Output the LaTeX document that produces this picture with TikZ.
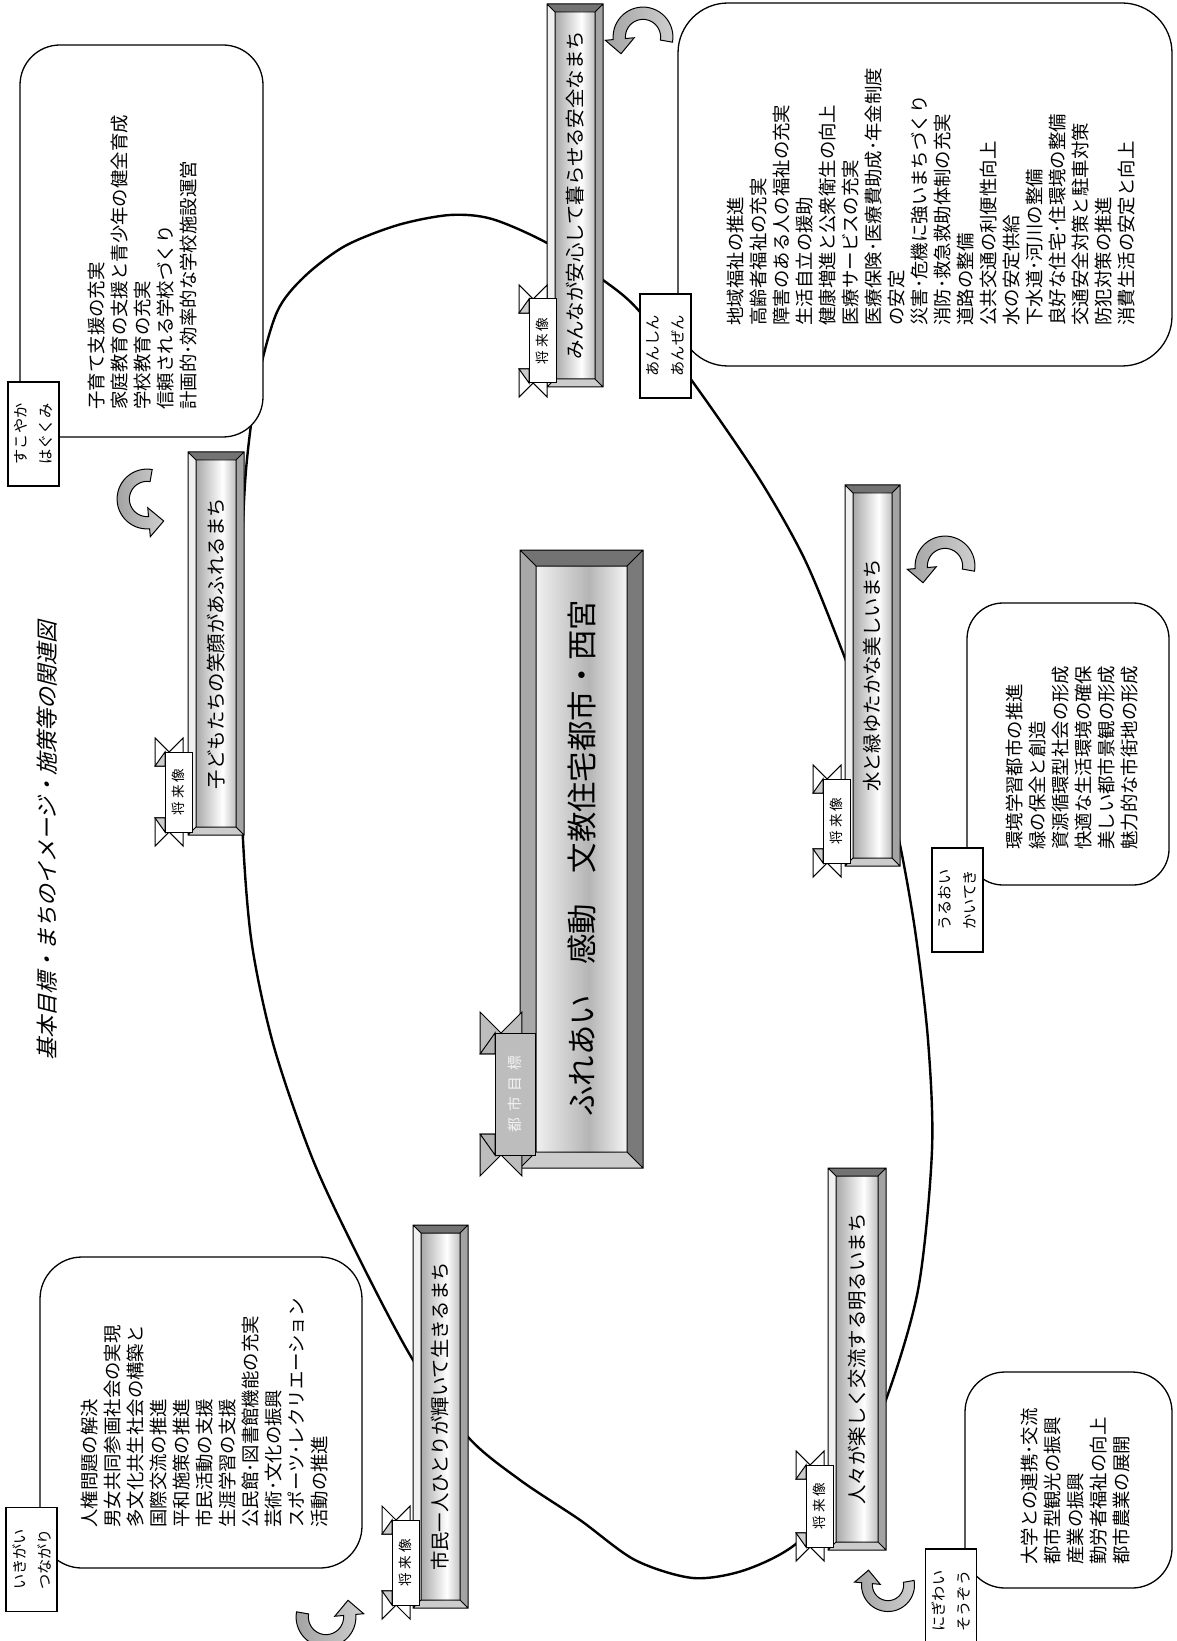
\documentclass[tikz,border=0pt]{standalone}
\usepackage{fontspec}
\setmainfont{Noto Sans CJK JP}
\newfontfamily\slantjp{Noto Sans CJK JP}[FakeSlant=0.25]

\definecolor{bevdark}{gray}{0.45}
\definecolor{bevlow}{gray}{0.80}
\definecolor{bevlight}{gray}{0.94}
\definecolor{bevmid}{gray}{0.64}
\definecolor{goalleft}{gray}{0.66}
\definecolor{goalright}{gray}{0.48}
\definecolor{goalgray}{gray}{0.74}
\definecolor{goalink}{gray}{0.95}

\pgfdeclarehorizontalshading{barshade}{100bp}{color(0bp)=(gray!68); color(25bp)=(gray!68); color(58bp)=(white); color(75bp)=(gray!50); color(100bp)=(gray!50)}
\pgfdeclarehorizontalshading{goalshade}{100bp}{color(0bp)=(gray!12); color(25bp)=(gray!12); color(54bp)=(gray!58); color(75bp)=(gray!8); color(100bp)=(gray!8)}

\tikzset{
  ring/.style={line width=1.2pt},
  memo/.style={draw,line width=0.65pt,fill=white,rounded corners=#1},
  memotab/.style={draw,line width=0.6pt,fill=white,rotate=90,inner sep=0pt,
    minimum width=52pt,minimum height=25.5pt,align=center,
    font=\fontsize{7.6}{12.5}\selectfont},
  memotext/.style={rotate=90,anchor=north west,align=left,inner sep=0pt,
    font=\fontsize{9.2}{11.5}\selectfont},
  bartext/.style={rotate=90,inner sep=0pt,font=\fontsize{9.7}{10}\selectfont},
  barline/.style={draw=black,line width=0.5pt},
  futuretab/.style={draw,line width=0.5pt,fill=white,rotate=90,inner sep=0pt,
    minimum height=13.5pt,font=\fontsize{6.8}{8}\selectfont},
  goaltab/.style={draw,line width=0.5pt,fill=goalgray,rotate=90,inner sep=0pt,
    minimum height=20pt,text=goalink,font=\fontsize{7.4}{8}\selectfont},
  turnfill/.style={draw,line width=0.5pt,left color=gray!72,right color=gray!38},
}

% bar with bevelled frame: x1,y1,x2,y2,bevel,shading,left side,right side
\newcommand\bevelbar[8]{%
  \fill[bevdark] (#1,#2) -- (#3,#2) -- (#3-#5,#2+#5) -- (#1+#5,#2+#5) -- cycle;
  \fill[bevlow] (#1,#4) -- (#3,#4) -- (#3-#5,#4-#5) -- (#1+#5,#4-#5) -- cycle;
  \fill[#7] (#1,#2) -- (#1+#5,#2+#5) -- (#1+#5,#4-#5) -- (#1,#4) -- cycle;
  \fill[#8] (#3,#2) -- (#3-#5,#2+#5) -- (#3-#5,#4-#5) -- (#3,#4) -- cycle;
  \shade[shading=#6] (#1+#5,#2+#5) rectangle (#3-#5,#4-#5);
  \draw[barline] (#1,#2) rectangle (#3,#4) (#1+#5,#2+#5) rectangle (#3-#5,#4-#5)
    (#1,#2) -- (#1+#5,#2+#5) (#3,#2) -- (#3-#5,#2+#5)
    (#1,#4) -- (#1+#5,#4-#5) (#3,#4) -- (#3-#5,#4-#5);}

% ribbon tails at both ends of a tab: x left, y top, y bottom, width, tail, fold
\newcommand\ribbonends[6]{%
  \filldraw[fill=#5,line width=0.5pt] (#1-0.37*#4,#2-0.52*#4) -- (#1+0.15*#4,#2)
    -- (#1+0.67*#4,#2-0.52*#4) -- (#1+0.67*#4,#2+0.52*#4) -- (#1-0.37*#4,#2+0.52*#4) -- cycle;
  \filldraw[fill=#6,line width=0.5pt] (#1-0.37*#4,#2+0.52*#4) -- (#1,#2) -- (#1,#2+0.52*#4) -- cycle;
  \filldraw[fill=#5,line width=0.5pt] (#1-0.37*#4,#3+0.52*#4) -- (#1+0.15*#4,#3)
    -- (#1+0.67*#4,#3+0.52*#4) -- (#1+0.67*#4,#3-0.52*#4) -- (#1-0.37*#4,#3-0.52*#4) -- cycle;
  \filldraw[fill=#6,line width=0.5pt] (#1-0.37*#4,#3-0.52*#4) -- (#1,#3) -- (#1,#3-0.52*#4) -- cycle;}

% the small future tab: name, x left, y top, y bottom
\newcommand\futuretab[4]{%
  \ribbonends{#2}{#3}{#4}{27}{white}{gray!40}
  \node[futuretab,minimum width={(#4-#3)*0.5pt}] (#1) at ({#2+13.5},{(#3+#4)/2}) {将\hspace{1.6pt}来\hspace{1.6pt}像};}

% turning arrow round (0,0)
\newcommand\turnarrow{%
  \draw[turnfill] plot[domain=-10:185,samples=30] ({34*cos(\x)},{34*sin(\x)})
    -- (185:43) -- (-25,-19) -- (185:10)
    -- plot[domain=185:-10,samples=30] ({20*cos(\x)},{20*sin(\x)}) -- cycle;}

\begin{document}
\begin{tikzpicture}[x=0.5pt,y=-0.5pt]
\useasboundingbox (0,0) rectangle (1176,1641);
\fill[white] (0,0) rectangle (1176,1641);

\node[rotate=90,inner sep=0pt,font=\slantjp\fontsize{11}{12}\selectfont] (title) at (47,841)
  {基本目標・まちのイメージ・施策等の関連図};

% ring
\draw[ring] plot[smooth cycle] coordinates {
  (450,215) (492,219) (547,243) (603,280) (640,312) (700,392) (760,480) (805,560)
  (843,653) (875,740) (898,835) (915,930) (928,1040) (932,1150) (918,1290)
  (884,1405) (845,1485) (797,1543) (745,1570) (693,1578) (635,1560) (580,1520)
  (520,1480) (468,1437) (413,1360) (360,1260) (313,1160) (274,1047) (252,945)
  (243,840) (239,700) (241,580) (246,470) (258,380) (277,312) (304,277)
  (345,246) (398,225)};

% turning arrows
\begin{scope}[shift={(643,37)},yscale=-1,scale=0.88] \turnarrow \end{scope}
\begin{scope}[shift={(945,566)},yscale=-1,scale=0.88] \turnarrow \end{scope}
\begin{scope}[shift={(147,499)},rotate=90,yscale=-1,scale=0.88] \turnarrow \end{scope}
\begin{scope}[shift={(888,1585)},scale=0.78] \turnarrow \end{scope}
\begin{scope}[shift={(326,1617)},rotate=180,yscale=-1,scale=0.88] \turnarrow \end{scope}

% memo boxes
\draw[memo=20pt] (20,45) rectangle (263,437);
\node[memotext] (sukoyakalist) at (88,410) {子育て支援の充実\\家庭教育の支援と青少年の健全育成\\学校教育の充実\\信頼される学校づくり\\計画的･効率的な学校施設運営};
\node[memotab] (sukoyaka) at (33.5,434) {すこやか\\はぐくみ};

\draw[memo=25pt] (678,3) rectangle (1172,366);
\node[memotext] (anshinlist) at (727,326) {地域福祉の推進\\高齢者福祉の充実\\障害のある人の福祉の充実\\生活自立の援助\\健康増進と公衆衛生の向上\\医療サービスの充実\\医療保険･医療費助成･年金制度\\の安定\\災害･危機に強いまちづくり\\消防･救急救助体制の充実\\道路の整備\\公共交通の利便性向上\\水の安定供給\\下水道･河川の整備\\良好な住宅･住環境の整備\\交通安全対策と駐車対策\\防犯対策の推進\\消費生活の安定と向上};
\node[memotab] (anshin) at (665.5,346) {あんしん\\あんぜん};

\draw[memo=18pt] (967,603) rectangle (1169,885);
\node[memotext] (uruoilist) at (1006,850) {環境学習都市の推進\\緑の保全と創造\\資源循環型社会の形成\\快適な生活環境の確保\\美しい都市景観の形成\\魅力的な市街地の形成};
\node[memotab] (uruoi) at (957.5,900) {うるおい\\かいてき};

\draw[memo=20pt] (965,1372) rectangle (1172,1588);
\node[memotext] (nigiwailist) at (1021,1565) {大学との連携･交流\\都市型観光の振興\\産業の振興\\勤労者福祉の向上\\都市農業の展開};
\node[memotab] (nigiwai) at (951,1601) {にぎわい\\そうぞう};

\draw[memo=21pt] (40,1257) rectangle (362,1568);
\node[memotext] (ikigailist) at (81,1528) {人権問題の解決\\男女共同参画社会の実現\\多文化共生社会の構築と\\国際交流の推進\\平和施策の推進\\市民活動の支援\\生涯学習の支援\\公民館･図書館機能の充実\\芸術･文化の振興\\スポーツ･レクリエーション\\活動の推進};
\node[memotab] (ikigai) at (31.5,1559.5) {いきがい\\つながり};

% future bars
\bevelbar{547}{4}{603}{387}{8}{barshade}{bevlight}{bevmid}
\node[bartext] (anzenbar) at (575,195.5) {みんなが安心して暮らせる安全なまち};
\futuretab{anzentab}{529}{299}{383}

\bevelbar{188}{452}{244}{835}{8}{barshade}{bevlight}{bevmid}
\node[bartext] (kodomobar) at (216,643.5) {子どもたちの笑顔があふれるまち};
\futuretab{kodomotab}{165}{752}{832}

\bevelbar{413}{1225}{468}{1608}{8}{barshade}{bevlight}{bevmid}
\node[bartext] (shiminbar) at (440.5,1416.5) {市民一人ひとりが輝いて生きるまち};
\futuretab{shimintab}{392}{1520}{1605}

\bevelbar{828}{1168}{886}{1550}{8}{barshade}{bevlight}{bevmid}
\node[bartext] (hitobitobar) at (857,1359) {人々が楽しく交流する明るいまち};
\futuretab{hitobitotab}{806}{1465}{1547}

\bevelbar{845}{485}{900}{866}{8}{barshade}{bevlight}{bevmid}
\node[bartext] (mizubar) at (872.5,675.5) {水と緑ゆたかな美しいまち};
\futuretab{mizutab}{823}{779}{863}

% city goal
\bevelbar{520}{550}{643}{1168}{16}{goalshade}{goalleft}{goalright}
\node[bartext,font=\fontsize{15.2}{16}\selectfont] (goalbar) at (581.5,858) {ふれあい　感動　文教住宅都市・西宮};
\ribbonends{495}{1033}{1155}{40}{goalgray}{gray!60}
\node[goaltab,minimum width=61pt] (goaltab) at (515,1094) {都\hspace{3pt}市\hspace{3pt}目\hspace{3pt}標};
\end{tikzpicture}
\end{document}
